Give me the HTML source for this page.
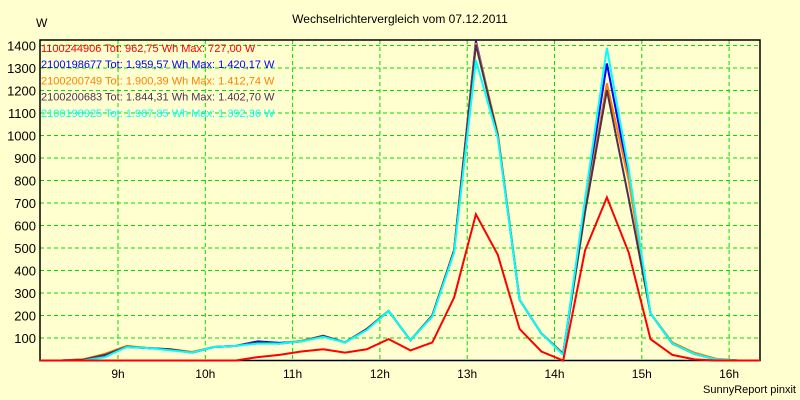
<!DOCTYPE html>
<html><head><meta charset="utf-8"><style>
body{margin:0;background:#ffffd0;}
svg{display:block;font-family:"Liberation Sans",Arial,sans-serif;}
</style></head><body>
<svg width="800" height="400" viewBox="0 0 800 400" id="chart">
<rect x="0" y="0" width="800" height="400" fill="#ffffd0"/>
<text x="400" y="23" font-size="12" text-anchor="middle" fill="#000">Wechselrichtervergleich vom 07.12.2011</text>
<text x="36" y="27" font-size="12" fill="#000">W</text>
<text x="796" y="393" font-size="11" text-anchor="end" fill="#000">SunnyReport pinxit</text>
<g id="grid"></g><g id="axes"></g><g id="series"></g><g id="legend"></g>
</svg>
<script>
const times=[8.1,8.35,8.6,8.85,9.1,9.35,9.6,9.85,10.1,10.35,10.6,10.85,11.1,11.35,11.6,11.85,12.1,12.35,12.6,12.85,13.1,13.35,13.6,13.85,14.1,14.35,14.6,14.85,15.1,15.35,15.6,15.85,16.1,16.35];
const redVals=[0,0,0,0,0,0,0,0,0,0,15,25,40,50,35,50,95,45,80,280,650,470,140,40,0,490,725,480,95,25,5,0,0,0];
const blueVals=[0,0,5,20,60,55,48,35,60,65,85,78,85,110,80,140,220,90,200,490,1420,1000,270,120,30,700,1320,820,210,75,30,5,0,0];
const orangeVals=[0,0,5,30,65,55,50,38,60,65,80,75,88,110,80,140,220,90,200,490,1412,1010,270,120,30,680,1232,800,210,80,35,8,0,0];
const darkVals=[0,0,3,25,62,55,50,35,60,65,80,75,85,110,80,140,220,90,200,490,1403,1000,270,120,30,660,1202,720,210,75,30,5,0,0];
const cyanVals=[0,0,0,15,60,55,45,35,60,65,75,75,85,105,80,135,220,90,195,480,1335,990,270,120,25,720,1390,850,210,75,30,5,0,0];
const yTicks=[100,200,300,400,500,600,700,800,900,1000,1100,1200,1300,1400];
const xTickHours=[9,10,11,12,13,14,15,16];
const xTickLabels=["9h","10h","11h","12h","13h","14h","15h","16h"];
const legendLabels=["1100244906 Tot: 962,75 Wh Max: 727,00 W","2100198677 Tot: 1.959,57 Wh Max: 1.420,17 W","2100200749 Tot: 1.900,39 Wh Max: 1.412,74 W","2100200683 Tot: 1.844,31 Wh Max: 1.402,70 W","2100198925 Tot: 1.987,85 Wh Max: 1.392,36 W"];

const NS="http://www.w3.org/2000/svg";
const L=40,R=760,T=40,B=360.5;
const x=h=>118+(h-9)*87.3;
const y=v=>B-v*0.225;
function mk(tag,attrs,parent){const e=document.createElementNS(NS,tag);for(const k in attrs)e.setAttribute(k,attrs[k]);parent.appendChild(e);return e;}
const grid=document.getElementById('grid'),axes=document.getElementById('axes'),ser=document.getElementById('series'),leg=document.getElementById('legend');
yTicks.forEach(v=>{
  const g=mk('line',{x1:L,x2:R,y1:y(v),y2:y(v),stroke:'#00dd00','stroke-dasharray':'4,3','stroke-width':1},grid);
  
  
  const t=mk('text',{x:36,y:y(v)+5,'font-size':13,'text-anchor':'end',fill:'#000'},axes);
  t.textContent=v;
  
  
});
xTickHours.forEach((h,i)=>{
  const g=mk('line',{x1:x(h),x2:x(h),y1:T,y2:B,stroke:'#00dd00','stroke-dasharray':'4,3','stroke-width':1},grid);
  
  
  const t=mk('text',{x:x(h),y:378,'font-size':12,'text-anchor':'middle',fill:'#000'},axes);
  t.textContent=xTickLabels[i];
  
  
});
const frame=mk('rect',{x:L,y:T,width:R-L,height:B-T,fill:'none',stroke:'#000','stroke-width':1.5},axes);


const series=[[redVals,'#ff0000','series-1100244906'],[blueVals,'#0000ff','series-2100198677'],[orangeVals,'#ff8000','series-2100200749'],[darkVals,'#503050','series-2100200683'],[cyanVals,'#00ffff','series-2100198925']];
const order=[1,2,3,4,0];
order.forEach(i=>{
  const [vals,col,name]=series[i];
  const p=mk('polyline',{points:times.map((t,j)=>x(t).toFixed(1)+','+y(vals[j]).toFixed(1)).join(' '),fill:'none',stroke:col,'stroke-width':2,'stroke-linejoin':'miter'},ser);
  
  
});
legendLabels.forEach((s,i)=>{
  const t=mk('text',{x:41,y:52+i*16.2,'font-size':11,fill:series[i][1]},leg);
  t.textContent=s;
  
  
});
</script>
</body></html>
